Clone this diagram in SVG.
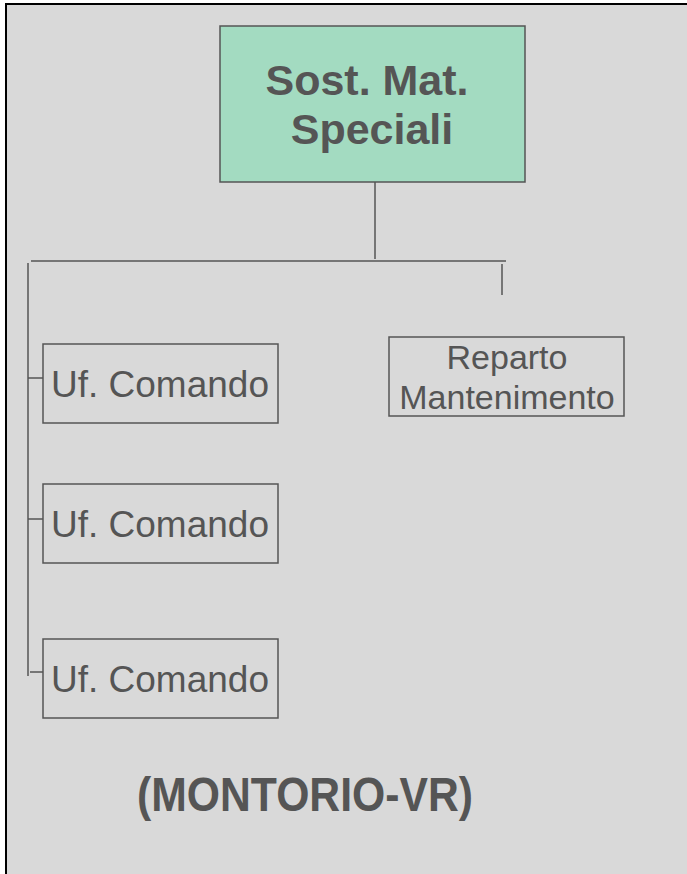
<svg xmlns="http://www.w3.org/2000/svg" width="687" height="874" viewBox="0 0 687 874">
<style>
.box{fill:none;stroke:#555;stroke-width:1.5}
.ln{stroke:#555;stroke-width:1.5;fill:none}
.t{font-family:"Liberation Sans",Arial,sans-serif;fill:#555;text-anchor:middle}
</style>
<rect x="6" y="4" width="690" height="880" fill="#d9d9d9" stroke="#000" stroke-width="2"/>
<g id="connectors">
<line class="ln" x1="375" y1="182" x2="375" y2="259"/>
<line class="ln" x1="31" y1="261" x2="506" y2="261"/>
<line class="ln" x1="502" y1="264" x2="502" y2="295"/>
<line class="ln" x1="28" y1="263" x2="28" y2="676"/>
<line class="ln" x1="28" y1="378" x2="43" y2="378"/>
<line class="ln" x1="28" y1="519" x2="43" y2="519"/>
<line class="ln" x1="30" y1="672" x2="43" y2="672"/>
</g>
<g id="n-sost">
<rect x="220" y="26" width="305" height="156" fill="#a3dbc1" stroke="#555" stroke-width="1.5"/>
<text class="t" x="367" y="95" font-size="43" font-weight="bold">Sost. Mat.</text>
<text class="t" x="372" y="144" font-size="43" font-weight="bold">Speciali</text>
</g>
<g id="n-uf1">
<rect class="box" x="43" y="344" width="235" height="79"/>
<text class="t" x="160" y="397" font-size="37">Uf. Comando</text>
</g>
<g id="n-uf2">
<rect class="box" x="43" y="484" width="235" height="79"/>
<text class="t" x="160" y="537" font-size="37">Uf. Comando</text>
</g>
<g id="n-uf3">
<rect class="box" x="43" y="639" width="235" height="79"/>
<text class="t" x="160" y="692" font-size="37">Uf. Comando</text>
</g>
<g id="n-reparto">
<rect class="box" x="389" y="337" width="235" height="79"/>
<text class="t" x="507" y="369" font-size="34">Reparto</text>
<text class="t" x="507" y="409" font-size="34">Mantenimento</text>
</g>
<g id="label">
<text class="t" x="305" y="811" font-size="49" font-weight="bold" textLength="336" lengthAdjust="spacingAndGlyphs">(MONTORIO-VR)</text>
</g>
</svg>
